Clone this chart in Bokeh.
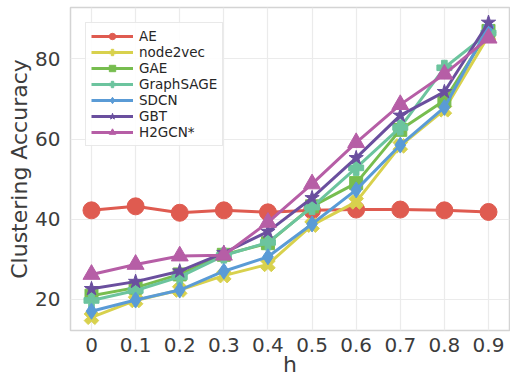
import math
from bokeh.plotting import figure
from bokeh.models import Range1d, FixedTicker, Legend, LegendItem
from bokeh.embed import file_html
from bokeh.resources import INLINE

h = [0.0, 0.1, 0.2, 0.3, 0.4, 0.5, 0.6, 0.7, 0.8, 0.9]
x_tick_labels = ["0", "0.1", "0.2", "0.3", "0.4", "0.5", "0.6", "0.7", "0.8", "0.9"]
y_ticks = [20, 40, 60, 80]

AE = [42.2, 43.2, 41.6, 42.2, 41.7, 42.2, 42.4, 42.4, 42.2, 41.8]
node2vec = [15.5, 19.7, 22.3, 25.9, 28.7, 38.5, 44.3, 58.3, 67.3, 85.8]
GAE = [20.9, 22.9, 26.2, 31.1, 34.0, 43.2, 49.0, 62.3, 69.6, 87.0]
GraphSAGE = [19.7, 22.2, 25.6, 30.9, 34.2, 43.0, 52.8, 62.9, 77.8, 86.5]
SDCN = [17.0, 19.8, 22.3, 27.0, 30.6, 38.8, 47.3, 58.5, 67.9, 88.0]
GBT = [22.6, 24.4, 27.0, 31.6, 36.9, 45.3, 55.3, 65.9, 71.8, 89.1]
H2GCN = [26.2, 28.7, 30.8, 31.0, 39.2, 48.8, 59.1, 68.6, 76.2, 85.2]

series_names = ["AE", "node2vec", "GAE", "GraphSAGE", "SDCN", "GBT", "H2GCN*"]
series_values = [AE, node2vec, GAE, GraphSAGE, SDCN, GBT, H2GCN]
colors = ["#df5b50", "#d8d14d", "#77bd4f", "#6cc49e", "#5a9bd6", "#6a4f9e", "#b65ea6"]
markers = ["circle", "plus", "square", "plus", "diamond", "star", "triangle"]
angles = [0, math.pi / 4, 0, 0, 0, 0, 0]
sizes = [17, 15, 13, 15, 16, 15, 17]

FONT = "DejaVu Sans"
TEXT_COLOR = "#3c3c3c"

p = figure(width=510, height=379, output_backend="svg", toolbar_location=None,
           x_range=Range1d(-0.0476, 0.9476), y_range=Range1d(12.2, 92.85),
           min_border_left=70, min_border_right=1, min_border_top=7, min_border_bottom=10)

p.background_fill_color = "white"
p.border_fill_color = "white"
p.outline_line_color = "#d4d4d4"
p.outline_line_width = 1.5

items = []
for name, vals, c, m, a, s in zip(series_names, series_values, colors, markers, angles, sizes):
    r1 = p.line(h, vals, line_color=c, line_width=3)
    r2 = p.scatter(h, vals, marker=m, size=s, angle=a, fill_color=c, line_color=c, line_width=1)
    items.append(LegendItem(label=name, renderers=[r1, r2]))

legend = Legend(items=items, location=(15, 184))
legend.margin = 0
legend.label_text_font = FONT
legend.label_text_font_size = "13.5px"
legend.label_text_color = "#262626"
legend.label_height = 16
legend.glyph_height = 16
legend.glyph_width = 42
legend.spacing = 0
legend.padding = 5
legend.border_line_color = "#d4d4d4"
legend.border_line_width = 1
legend.background_fill_alpha = 0.9
legend.label_standoff = 6
p.add_layout(legend)

for ax in (p.xaxis, p.yaxis):
    ax.axis_line_color = None
    ax.major_tick_line_color = None
    ax.minor_tick_line_color = None
    ax.major_tick_out = 0
    ax.major_tick_in = 0
    ax.minor_tick_out = 0
    ax.minor_tick_in = 0
    ax.major_label_text_font = FONT
    ax.major_label_text_font_size = "20px"
    ax.major_label_text_color = TEXT_COLOR
    ax.axis_label_text_font = FONT
    ax.axis_label_text_font_size = "22px"
    ax.axis_label_text_font_style = "normal"
    ax.axis_label_text_color = TEXT_COLOR

p.xaxis.ticker = FixedTicker(ticks=h)
p.xaxis.major_label_overrides = {v: lab for v, lab in zip(h, x_tick_labels)}
p.yaxis.ticker = FixedTicker(ticks=y_ticks)
p.xaxis.axis_label = "h"
p.yaxis.axis_label = "Clustering Accuracy"
p.xaxis.major_label_standoff = 7
p.xaxis.axis_label_standoff = -3
p.yaxis.major_label_standoff = 10
p.yaxis.axis_label_standoff = 0

p.xgrid.grid_line_color = "#ebebeb"
p.ygrid.grid_line_color = "#ebebeb"
p.xgrid.grid_line_width = 1.2
p.ygrid.grid_line_width = 1.2

open("out.html", "w").write(file_html(p, INLINE))
